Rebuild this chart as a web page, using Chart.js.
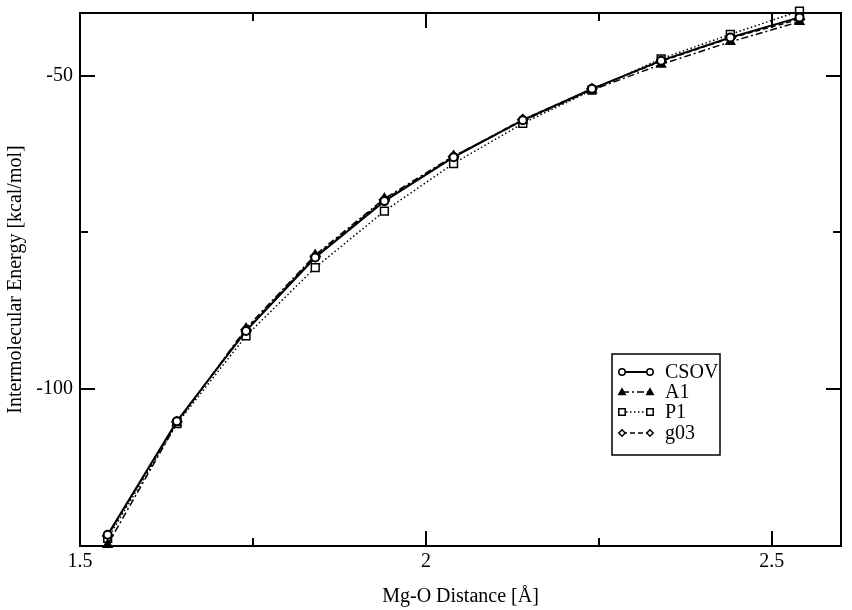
<!DOCTYPE html>
<html>
<head>
<meta charset="utf-8">
<script src="https://cdn.jsdelivr.net/npm/chart.js@4.4.1/dist/chart.umd.min.js"></script>
<style>
  html, body { margin: 0; padding: 0; background: #fff; }
  #wrap { width: 852px; height: 610px; }
</style>
</head>
<body>
<div id="wrap"><canvas id="energyChart" width="852" height="610"></canvas></div>
<script>
// Mg-O distance (Angstrom)
const distances = [1.54, 1.64, 1.74, 1.84, 1.94, 2.04, 2.14, 2.24, 2.34, 2.44, 2.54];

// intermolecular energy (kcal/mol) per method
const csov = [-123.2, -105.1, -90.7, -79.0, -70.0, -63.0, -57.1, -52.1, -47.6, -43.9, -40.7];
const a1   = [-124.8, -105.4, -90.3, -78.6, -69.6, -62.8, -57.2, -52.3, -48.2, -44.6, -41.4];
const p1   = [-123.8, -105.5, -91.5, -80.6, -71.6, -64.0, -57.6, -52.3, -47.3, -43.4, -39.7];
const g03  = [-123.4, -105.2, -90.5, -78.8, -69.8, -62.9, -57.0, -52.1, -47.7, -44.0, -41.0];

const seriesNames = ['CSOV', 'A1', 'P1', 'g03'];

const xMajor = [1.5, 2, 2.5];
const xMinor = [1.75, 2.25];
const yMajor = [-100, -50];
const yMinor = [-75];

const serif = 'Liberation Serif, Times New Roman, serif';

function toPoints(values) {
    return distances.map(function (d, i) { return { x: d, y: values[i] }; });
}

// cornice + tacche interne stile xmgrace
const framePlugin = {
    id: 'frame',
    afterDraw: function (chart) {
        const ctx = chart.ctx;
        const a = chart.chartArea;
        const xs = chart.scales.x;
        const ys = chart.scales.y;
        ctx.save();
        ctx.strokeStyle = '#000';
        ctx.lineWidth = 2;
        ctx.strokeRect(a.left, a.top, a.right - a.left, a.bottom - a.top);

        function xTick(v, len) {
            const px = Math.round(xs.getPixelForValue(v));
            ctx.beginPath();
            ctx.moveTo(px, a.bottom); ctx.lineTo(px, a.bottom - len);
            ctx.moveTo(px, a.top); ctx.lineTo(px, a.top + len);
            ctx.stroke();
        }
        function yTick(v, len) {
            const py = Math.round(ys.getPixelForValue(v));
            ctx.beginPath();
            ctx.moveTo(a.left, py); ctx.lineTo(a.left + len, py);
            ctx.moveTo(a.right, py); ctx.lineTo(a.right - len, py);
            ctx.stroke();
        }
        xMajor.forEach(function (v) { xTick(v, 15); });
        xMinor.forEach(function (v) { xTick(v, 8); });
        yMajor.forEach(function (v) { yTick(v, 15); });
        yMinor.forEach(function (v) { yTick(v, 8); });
        ctx.restore();
    }
};

function marker(ctx, style, x, y, r) {
    ctx.beginPath();
    if (style === 'circle') {
        ctx.arc(x, y, r, 0, Math.PI * 2);
    } else if (style === 'triangle') {
        ctx.moveTo(x, y - r);
        ctx.lineTo(x + r, y + r * 0.8);
        ctx.lineTo(x - r, y + r * 0.8);
        ctx.closePath();
    } else if (style === 'rect') {
        ctx.rect(x - r, y - r, 2 * r, 2 * r);
    } else {
        ctx.moveTo(x, y - r); ctx.lineTo(x + r, y); ctx.lineTo(x, y + r); ctx.lineTo(x - r, y);
        ctx.closePath();
    }
    ctx.fill();
    ctx.stroke();
}

// legenda nel riquadro
const legendBoxPlugin = {
    id: 'legendBox',
    afterDraw: function (chart) {
        const ctx = chart.ctx;
        ctx.save();
        ctx.strokeStyle = '#000';
        ctx.lineWidth = 1.5;
        ctx.strokeRect(612, 354, 108, 101);
        const rows = [372, 392, 412, 433];
        chart.data.datasets.forEach(function (ds, i) {
            const y = rows[i];
            ctx.setLineDash(ds.borderDash || []);
            ctx.lineWidth = ds.borderWidth;
            ctx.beginPath();
            ctx.moveTo(622, y); ctx.lineTo(650, y);
            ctx.stroke();
            ctx.setLineDash([]);
            ctx.lineWidth = 1.5;
            ctx.fillStyle = ds.pointBackgroundColor;
            const s = ds.pointStyle === 'rectRot' ? 'diamond' : ds.pointStyle;
            marker(ctx, s, 622, y, 3.2);
            marker(ctx, s, 650, y, 3.2);
            ctx.fillStyle = '#000';
            ctx.font = '20px ' + serif;
            ctx.textBaseline = 'middle';
            ctx.textAlign = 'left';
            ctx.fillText(ds.label, 665, y + 1);
        });
        ctx.restore();
    }
};

const ctx = document.getElementById('energyChart').getContext('2d');

const energyChart = new Chart(ctx, {
    type: 'scatter',
    data: {
        datasets: [
            {
                label: seriesNames[0],
                data: toPoints(csov),
                showLine: true,
                borderColor: '#000',
                borderWidth: 2,
                pointStyle: 'circle',
                pointRadius: 4,
                pointBorderWidth: 2,
                pointBackgroundColor: '#fff',
                pointBorderColor: '#000'
            },
            {
                label: seriesNames[1],
                data: toPoints(a1),
                showLine: true,
                borderColor: '#000',
                borderWidth: 1.5,
                borderDash: [7, 3, 2, 3],
                pointStyle: 'triangle',
                pointRadius: 5,
                pointBorderWidth: 1.5,
                pointBackgroundColor: '#000',
                pointBorderColor: '#000'
            },
            {
                label: seriesNames[2],
                data: toPoints(p1),
                showLine: true,
                borderColor: '#000',
                borderWidth: 1.5,
                borderDash: [1.5, 2.5],
                pointStyle: 'rect',
                pointRadius: 5.5,
                pointBorderWidth: 1.5,
                pointBackgroundColor: '#fff',
                pointBorderColor: '#000'
            },
            {
                label: seriesNames[3],
                data: toPoints(g03),
                showLine: true,
                borderColor: '#000',
                borderWidth: 1.5,
                borderDash: [5, 3],
                pointStyle: 'rectRot',
                pointRadius: 5,
                pointBorderWidth: 1.5,
                pointBackgroundColor: '#fff',
                pointBorderColor: '#000'
            }
        ]
    },
    options: {
        responsive: false,
        animation: false,
        clip: false,
        layout: { padding: { top: 13, right: 11, left: 0, bottom: 0 } },
        elements: { line: { tension: 0 } },
        plugins: {
            legend: { display: false },
            tooltip: { enabled: false }
        },
        scales: {
            x: {
                type: 'linear',
                min: 1.5,
                max: 2.6,
                grid: { display: false, drawTicks: false },
                border: { display: false },
                afterBuildTicks: function (scale) {
                    scale.ticks = xMajor.map(function (v) { return { value: v }; });
                },
                afterFit: function (scale) {
                    scale.height = 64;
                    scale.paddingLeft = 0;
                    scale.paddingRight = 0;
                },
                ticks: {
                    color: '#000',
                    padding: 4,
                    maxRotation: 0,
                    font: { family: serif, size: 20 },
                    callback: function (v) { return String(v); }
                },
                title: {
                    display: true,
                    text: 'Mg-O Distance [Å]',
                    color: '#000',
                    font: { family: serif, size: 20 },
                    padding: { top: 0, bottom: 1 }
                }
            },
            y: {
                type: 'linear',
                min: -125,
                max: -40,
                grid: { display: false, drawTicks: false },
                border: { display: false },
                afterBuildTicks: function (scale) {
                    scale.ticks = yMajor.map(function (v) { return { value: v }; });
                },
                afterFit: function (scale) {
                    scale.width = 80;
                    scale.paddingTop = 0;
                    scale.paddingBottom = 0;
                },
                ticks: {
                    color: '#000',
                    padding: 7,
                    font: { family: serif, size: 20 },
                    callback: function (v) { return String(v); }
                },
                title: {
                    display: true,
                    text: 'Intermolecular Energy [kcal/mol]',
                    color: '#000',
                    font: { family: serif, size: 20 },
                    padding: { top: 4, bottom: 0 }
                }
            }
        }
    },
    plugins: [framePlugin, legendBoxPlugin]
});
</script>
</body>
</html>
